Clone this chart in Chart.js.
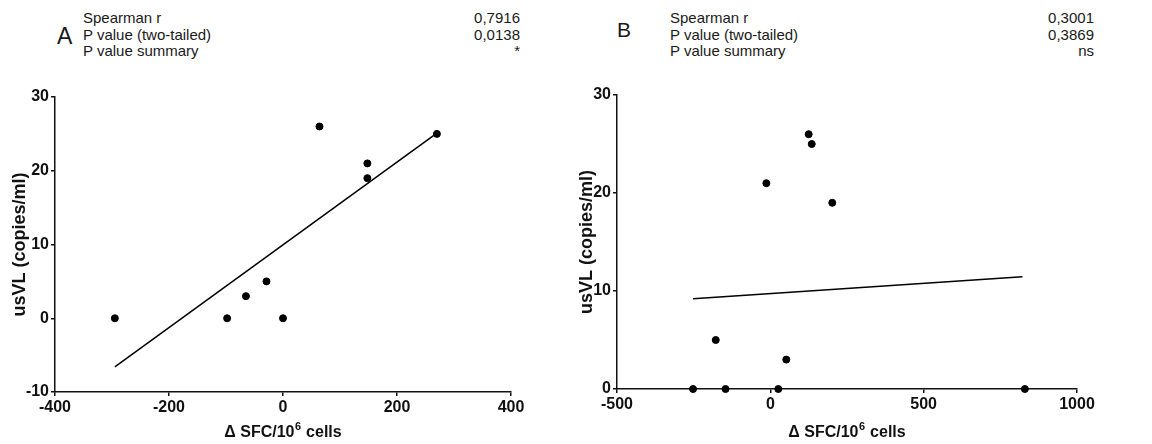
<!DOCTYPE html>
<html>
<head>
<meta charset="utf-8">
<script src="https://cdn.jsdelivr.net/npm/chart.js@4.4.1/dist/chart.umd.min.js"></script>
<style>
  html, body { margin: 0; padding: 0; background: #fff; }
  body { width: 1152px; height: 444px; position: relative; overflow: hidden; font-family: 'Liberation Sans', Arial, sans-serif; color: #1a1a1a; }
  .panel { position: absolute; top: 80px; width: 576px; height: 364px; }
  .letter { position: absolute; line-height: 1; }
  .stats { position: absolute; font-size: 15px; line-height: 16.5px; }
  .stats div { display: flex; justify-content: space-between; }
</style>
</head>
<body>
<div class="letter" style="left:57px; top:25px; font-size:23px;">A</div>
<div class="stats" id="statsA" style="left:83px; top:10px; width:437px;"></div>
<div class="letter" style="left:617px; top:19px; font-size:21px;">B</div>
<div class="stats" id="statsB" style="left:670px; top:10px; width:424px;"></div>
<div class="panel" style="left:0px;"><canvas id="chartA"></canvas></div>
<div class="panel" style="left:576px;"><canvas id="chartB"></canvas></div>
<script>
// panel A
const aX = [-295, -98, -65, -29, 0, 64, 148, 148, 270];
const aY = [0, 0, 3, 5, 0, 26, 21, 19, 25];
const aFitX = [-295, 270];
const aFitY = [-6.6, 25.1];

// panel B
const bX = [-252, -146, 26, 830, -178, 52, -13, 125, 135, 202];
const bY = [0, 0, 0, 0, 5, 3, 21, 26, 25, 19];
const bFitX = [-252, 822];
const bFitY = [9.2, 11.45];

const statNames = ['Spearman r', 'P value (two-tailed)', 'P value summary'];
const statsA = ['0,7916', '0,0138', '*'];
const statsB = ['0,3001', '0,3869', 'ns'];

// x title pieces: base, superscript, rest
const xTitle = ['Δ SFC/10', '6', ' cells'];
const yTitle = 'usVL (copies/ml)';

function fillStats(id, vals) {
  const box = document.getElementById(id);
  statNames.forEach((name, i) => {
    const row = document.createElement('div');
    row.innerHTML = '<span>' + name + '</span><span>' + vals[i] + '</span>';
    box.appendChild(row);
  });
}
fillStats('statsA', statsA);
fillStats('statsB', statsB);

Chart.defaults.font.family = "'Liberation Sans', Arial, sans-serif";
Chart.defaults.color = '#111';

function toPts(xs, ys) {
  return xs.map((x, i) => ({ x: x, y: ys[i] }));
}

// draws the x title with a real superscript
const xTitlePlugin = {
  id: 'xTitle',
  afterDraw(chart) {
    const ctx = chart.ctx;
    const area = chart.chartArea;
    const big = 'bold 16px "Liberation Sans", Arial, sans-serif';
    const small = 'bold 11px "Liberation Sans", Arial, sans-serif';
    ctx.save();
    ctx.fillStyle = '#111';
    ctx.textBaseline = 'alphabetic';
    ctx.font = big;
    const w0 = ctx.measureText(xTitle[0]).width;
    const w2 = ctx.measureText(xTitle[2]).width;
    ctx.font = small;
    const w1 = ctx.measureText(xTitle[1]).width + 1;
    let x = (area.left + area.right) / 2 - (w0 + w1 + w2) / 2;
    const y = chart.height - 7;
    ctx.font = big;
    ctx.fillText(xTitle[0], x, y);
    x += w0;
    ctx.font = small;
    ctx.fillText(xTitle[1], x + 0.5, y - 7);
    x += w1;
    ctx.font = big;
    ctx.fillText(xTitle[2], x, y);
    ctx.restore();
  }
};

function axis(min, max, step, extra) {
  return Object.assign({
    type: 'linear',
    min: min,
    max: max,
    ticks: {
      stepSize: step,
      padding: 2,
      font: { size: 16, weight: 'bold' },
      color: '#111',
      callback: v => String(v)
    },
    border: { color: '#111', width: 1.5 },
    grid: { drawOnChartArea: false, drawTicks: true, tickLength: 4, color: '#111', lineWidth: 1.5 }
  }, extra);
}

function makeChart(id, xs, ys, fx, fy, opts) {
  const ctx = document.getElementById(id).getContext('2d');
  return new Chart(ctx, {
    type: 'scatter',
    data: {
      datasets: [{
        data: toPts(xs, ys),
        backgroundColor: '#000',
        borderColor: '#000',
        pointRadius: 3.5,
        clip: false
      }, {
        data: toPts(fx, fy),
        showLine: true,
        borderColor: '#000',
        borderWidth: 1.5,
        pointRadius: 0,
        clip: false
      }]
    },
    options: {
      responsive: false,
      animation: false,
      layout: { padding: opts.padding },
      plugins: { legend: { display: false }, tooltip: { enabled: false } },
      scales: {
        x: axis(opts.xMin, opts.xMax, opts.xStep, {
          afterFit: s => { s.height = opts.xHeight; }
        }),
        y: axis(opts.yMin, opts.yMax, 10, {
          title: {
            display: true,
            text: yTitle,
            color: '#111',
            font: { size: 18, weight: 'bold' },
            padding: { top: opts.yTitlePad, bottom: 0 }
          },
          afterFit: s => { s.width = opts.yWidth; }
        })
      }
    },
    plugins: [xTitlePlugin]
  });
}

function sizeCanvas(id) {
  const c = document.getElementById(id);
  c.width = 576; c.height = 364;
  c.style.width = '576px'; c.style.height = '364px';
}
sizeCanvas('chartA');
sizeCanvas('chartB');

makeChart('chartA', aX, aY, aFitX, aFitY, {
  padding: { left: 0, top: 17, right: 65, bottom: 0 },
  xMin: -400, xMax: 400, xStep: 200, yMin: -10, yMax: 30,
  xHeight: 52, yWidth: 55, yTitlePad: 9
});

makeChart('chartB', bX, bY, bFitX, bFitY, {
  padding: { left: 0, top: 15, right: 75, bottom: 0 },
  xMin: -500, xMax: 1000, xStep: 500, yMin: 0, yMax: 30,
  xHeight: 55, yWidth: 41, yTitlePad: 0
});
</script>
</body>
</html>
